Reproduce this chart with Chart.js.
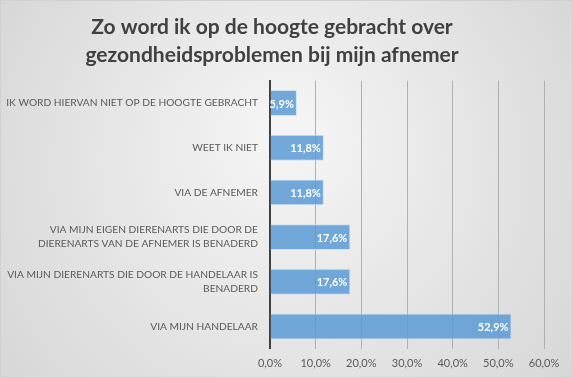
<!DOCTYPE html>
<html>
<head>
<meta charset="utf-8">
<script src="https://cdn.jsdelivr.net/npm/chart.js@4/dist/chart.umd.min.js"></script>
<style>
  html, body { margin: 0; padding: 0; background: #fff; }
  #wrap { position: relative; width: 573px; height: 378px; }
</style>
</head>
<body>
<div id="wrap"><canvas id="c" width="573" height="378"></canvas></div>
<script>
const titleLines = ["Zo word ik op de hoogte gebracht over", "gezondheidsproblemen bij mijn afnemer"];
const categories = [
  ["IK WORD HIERVAN NIET OP DE HOOGTE GEBRACHT"],
  ["WEET IK NIET"],
  ["VIA DE AFNEMER"],
  ["VIA MIJN EIGEN DIERENARTS DIE DOOR DE", "DIERENARTS VAN DE AFNEMER IS BENADERD"],
  ["VIA MIJN DIERENARTS DIE DOOR DE HANDELAAR IS", "BENADERD"],
  ["VIA MIJN HANDELAAR"]
];
const values = [5.9, 11.8, 11.8, 17.6, 17.6, 52.9];
const xTicks = [0, 10, 20, 30, 40, 50, 60];

const fmt = v => v.toFixed(1).replace('.', ',') + '%';

const bgPlugin = {
  id: 'bg',
  beforeDraw(chart) {
    const {ctx, width, height} = chart;
    const g = ctx.createRadialGradient(width/2, height*0.35, 20, width/2, height/2, width*0.62);
    g.addColorStop(0, '#f4f4f4');
    g.addColorStop(1, '#d6d6d6');
    ctx.save();
    ctx.fillStyle = g;
    ctx.fillRect(0, 0, width, height);
    ctx.strokeStyle = '#d0d0d0';
    ctx.lineWidth = 1;
    ctx.strokeRect(0.5, 0.5, width - 1, height - 1);
    ctx.restore();
  }
};

const labelPlugin = {
  id: 'barLabels',
  afterDatasetsDraw(chart) {
    const {ctx} = chart;
    const meta = chart.getDatasetMeta(0);
    ctx.save();
    ctx.font = 'bold 11px Lato, "Liberation Sans", sans-serif';
    ctx.fillStyle = '#ffffff';
    ctx.textAlign = 'right';
    ctx.textBaseline = 'middle';
    meta.data.forEach((bar, i) => {
      ctx.fillText(fmt(values[i]), bar.x - 3, bar.y + 1);
    });
    ctx.restore();
  }
};

new Chart(document.getElementById('c'), {
  type: 'bar',
  data: {
    labels: categories,
    datasets: [{
      data: values,
      backgroundColor: 'rgba(91,155,213,0.85)',
      borderColor: 'rgba(200,225,245,0.9)',
      borderWidth: 1,
      barPercentage: 0.58,
      categoryPercentage: 1.0
    }]
  },
  options: {
    indexAxis: 'y',
    responsive: false,
    animation: false,
    devicePixelRatio: 1,
    layout: { padding: { left: 0, right: 29, top: 0, bottom: 0 } },
    plugins: {
      legend: { display: false },
      tooltip: { enabled: false },
      title: {
        display: true,
        text: titleLines,
        color: '#404040',
        font: { family: 'Lato, "Liberation Sans", sans-serif', size: 21, weight: 'bold', lineHeight: 1.35 },
        padding: { top: 13, bottom: 11 }
      }
    },
    scales: {
      x: {
        min: 0, max: 60,
        afterBuildTicks(scale) { scale.ticks = xTicks.map(v => ({ value: v })); },
        ticks: {
          callback: v => fmt(v),
          color: '#595959',
          font: { family: 'Lato, "Liberation Sans", sans-serif', size: 11 },
          padding: 8,
          maxRotation: 0
        },
        grid: {
          color: ctx => ctx.tick && ctx.tick.value === 0 ? 'rgba(0,0,0,0)' : '#b0b0b0',
          lineWidth: 1,
          drawTicks: false
        },
        border: { display: false }
      },
      y: {
        afterFit(scale) { scale.width = 270; },
        ticks: {
          color: '#595959',
          font: { family: 'Lato, "Liberation Sans", sans-serif', size: 10.2, lineHeight: '14px' },
          padding: 12,
          autoSkip: false
        },
        grid: { display: false, drawTicks: false },
        border: { display: true, color: '#404040', width: 2 }
      }
    }
  },
  plugins: [bgPlugin, labelPlugin]
});
</script>
</body>
</html>
